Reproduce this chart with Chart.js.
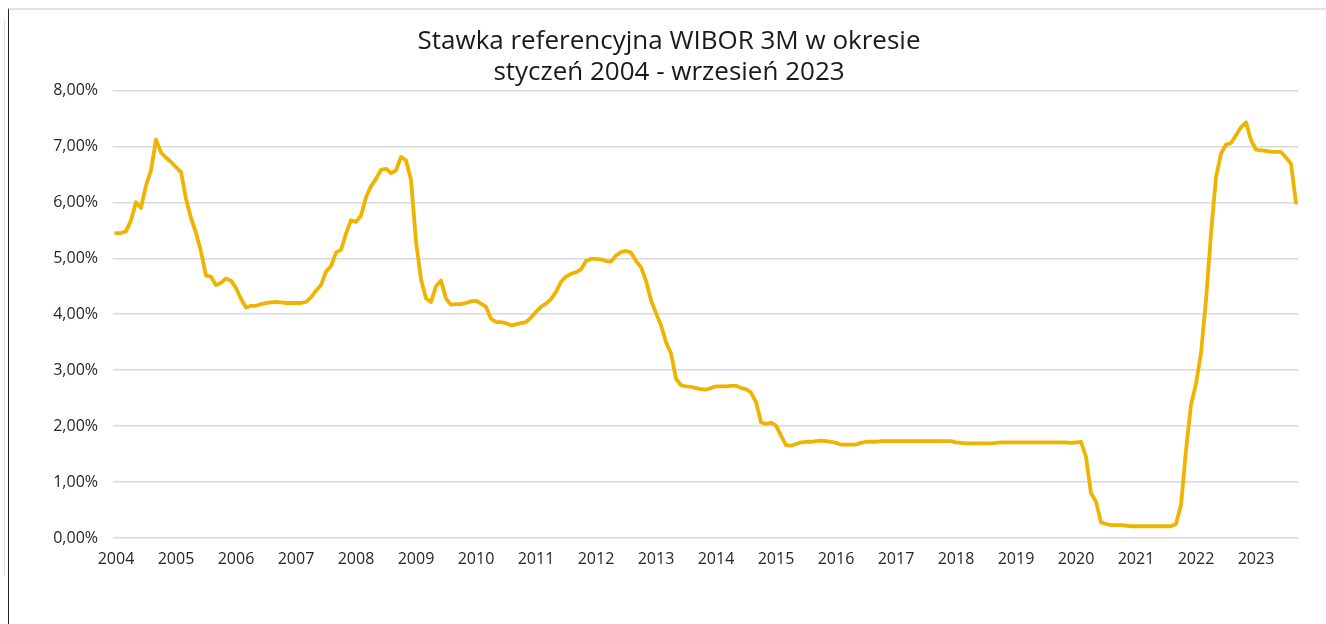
<!DOCTYPE html>
<html lang="pl">
<head>
<meta charset="utf-8">
<title>WIBOR 3M</title>
<script src="https://cdn.jsdelivr.net/npm/chart.js@4/dist/chart.umd.min.js"></script>
<style>
    html, body { margin: 0; padding: 0; background: #fff; }
    body { width: 1326px; height: 624px; position: relative; overflow: hidden; }
    #frame { position: absolute; left: 8px; top: 8px; right: 0; bottom: 0; border-left: 1px solid #222; border-top: 2px solid #e3e3e3; }
    #shadow { position: absolute; left: 4px; top: 20px; width: 1px; height: 555px; background: #ddd; }
    #wrap { position: absolute; left: 0; top: 0; width: 1326px; height: 624px; }
</style>
</head>
<body>
<div id="shadow"></div>
<div id="frame"></div>
<div id="wrap"><canvas id="wiborChart"></canvas></div>
<script>
// Tick labels of the time axis (one per January)
const yearLabels = ['2004', '2005', '2006', '2007', '2008', '2009', '2010', '2011', '2012', '2013',
    '2014', '2015', '2016', '2017', '2018', '2019', '2020', '2021', '2022', '2023'];

// WIBOR 3M, monthly, % (Jan 2004 - Sep 2023)
const wibor2004_2008 = [
    5.45, 5.45, 5.48, 5.68, 6.00, 5.90, 6.30, 6.57, 7.12, 6.89, 6.80, 6.72,
    6.63, 6.54, 6.06, 5.72, 5.45, 5.12, 4.69, 4.67, 4.52, 4.56, 4.64, 4.60,
    4.47, 4.27, 4.12, 4.15, 4.15, 4.18, 4.20, 4.21, 4.22, 4.21, 4.20, 4.20,
    4.20, 4.20, 4.22, 4.30, 4.42, 4.52, 4.76, 4.86, 5.10, 5.15, 5.44, 5.68,
    5.65, 5.76, 6.09, 6.29, 6.42, 6.58, 6.60, 6.52, 6.57, 6.81, 6.75, 6.40
];
const wibor2009_2013 = [
    5.30, 4.62, 4.28, 4.22, 4.50, 4.60, 4.28, 4.17, 4.18, 4.18, 4.20, 4.23,
    4.24, 4.19, 4.13, 3.92, 3.86, 3.86, 3.84, 3.80, 3.82, 3.84, 3.86, 3.94,
    4.04, 4.13, 4.19, 4.27, 4.40, 4.58, 4.67, 4.72, 4.75, 4.80, 4.95, 4.99,
    4.99, 4.98, 4.95, 4.94, 5.05, 5.11, 5.13, 5.10, 4.95, 4.84, 4.60, 4.25,
    4.02, 3.80, 3.50, 3.30, 2.85, 2.73, 2.71, 2.70, 2.68, 2.66, 2.65, 2.68
];
const wibor2014_2018 = [
    2.71, 2.71, 2.71, 2.72, 2.72, 2.68, 2.66, 2.60, 2.43, 2.07, 2.04, 2.06,
    2.01, 1.83, 1.66, 1.65, 1.68, 1.71, 1.72, 1.72, 1.73, 1.74, 1.73, 1.72,
    1.70, 1.67, 1.67, 1.67, 1.67, 1.70, 1.72, 1.72, 1.72, 1.73, 1.73, 1.73,
    1.73, 1.73, 1.73, 1.73, 1.73, 1.73, 1.73, 1.73, 1.73, 1.73, 1.73, 1.73,
    1.71, 1.70, 1.69, 1.69, 1.69, 1.69, 1.69, 1.69, 1.70, 1.71, 1.71, 1.71
];
const wibor2019_2023 = [
    1.71, 1.71, 1.71, 1.71, 1.71, 1.71, 1.71, 1.71, 1.71, 1.71, 1.71, 1.70,
    1.71, 1.72, 1.45, 0.80, 0.65, 0.28, 0.25, 0.23, 0.23, 0.23, 0.22, 0.21,
    0.21, 0.21, 0.21, 0.21, 0.21, 0.21, 0.21, 0.21, 0.25, 0.59, 1.57, 2.38,
    2.76, 3.30, 4.25, 5.44, 6.45, 6.87, 7.03, 7.06, 7.20, 7.34, 7.43, 7.11,
    6.94, 6.93, 6.92, 6.90, 6.90, 6.90, 6.80, 6.69, 5.99
];

const wibor = [...wibor2004_2008, ...wibor2009_2013, ...wibor2014_2018, ...wibor2019_2023];

// x = month number counted from Jan 2004
const points = wibor.map((v, i) => ({ x: i, y: v }));

const fontFamily = "'Open Sans', 'Noto Sans', sans-serif";

function initializeChart() {
    const ctx = document.getElementById('wiborChart').getContext('2d');
    new Chart(ctx, {
        type: 'line',
        data: {
            datasets: [{
                label: 'WIBOR 3M',
                data: points,
                borderColor: '#eeb400',
                borderWidth: 3.8,
                pointRadius: 0,
                tension: 0,
                borderJoinStyle: 'round',
                borderCapStyle: 'round'
            }]
        },
        options: {
            responsive: true,
            maintainAspectRatio: false,
            animation: false,
            layout: {
                padding: { top: 0, right: 28, bottom: 44, left: 40 }
            },
            plugins: {
                legend: { display: false },
                tooltip: { enabled: false },
                title: {
                    display: true,
                    text: ['Stawka referencyjna WIBOR 3M w okresie', 'styczeń 2004 - wrzesień 2023'],
                    color: '#1a1a1a',
                    font: { family: fontFamily, size: 26, weight: 'normal', lineHeight: 1.2 },
                    padding: { top: 26, bottom: 2 }
                }
            },
            scales: {
                x: {
                    type: 'linear',
                    min: -0.6,
                    max: wibor.length - 0.6,
                    afterBuildTicks: axis => {
                        axis.ticks = yearLabels.map((y, i) => ({ value: i * 12 }));
                    },
                    afterFit: axis => { axis.height = 42; },
                    grid: { display: false, drawTicks: false },
                    border: { display: false },
                    ticks: {
                        autoSkip: false,
                        maxRotation: 0,
                        padding: 12,
                        color: '#262626',
                        font: { family: fontFamily, size: 16 },
                        callback: (value) => yearLabels[Math.round(value / 12)]
                    }
                },
                y: {
                    min: 0,
                    max: 8,
                    afterFit: axis => { axis.width = 73; },
                    grid: { color: '#d9d9d9', lineWidth: 1.5, drawTicks: false },
                    border: { display: false },
                    ticks: {
                        stepSize: 1,
                        padding: 15,
                        color: '#262626',
                        font: { family: fontFamily, size: 16 },
                        callback: (value) => value.toFixed(2).replace('.', ',') + '%'
                    }
                }
            }
        }
    });
}

initializeChart();
</script>
</body>
</html>
